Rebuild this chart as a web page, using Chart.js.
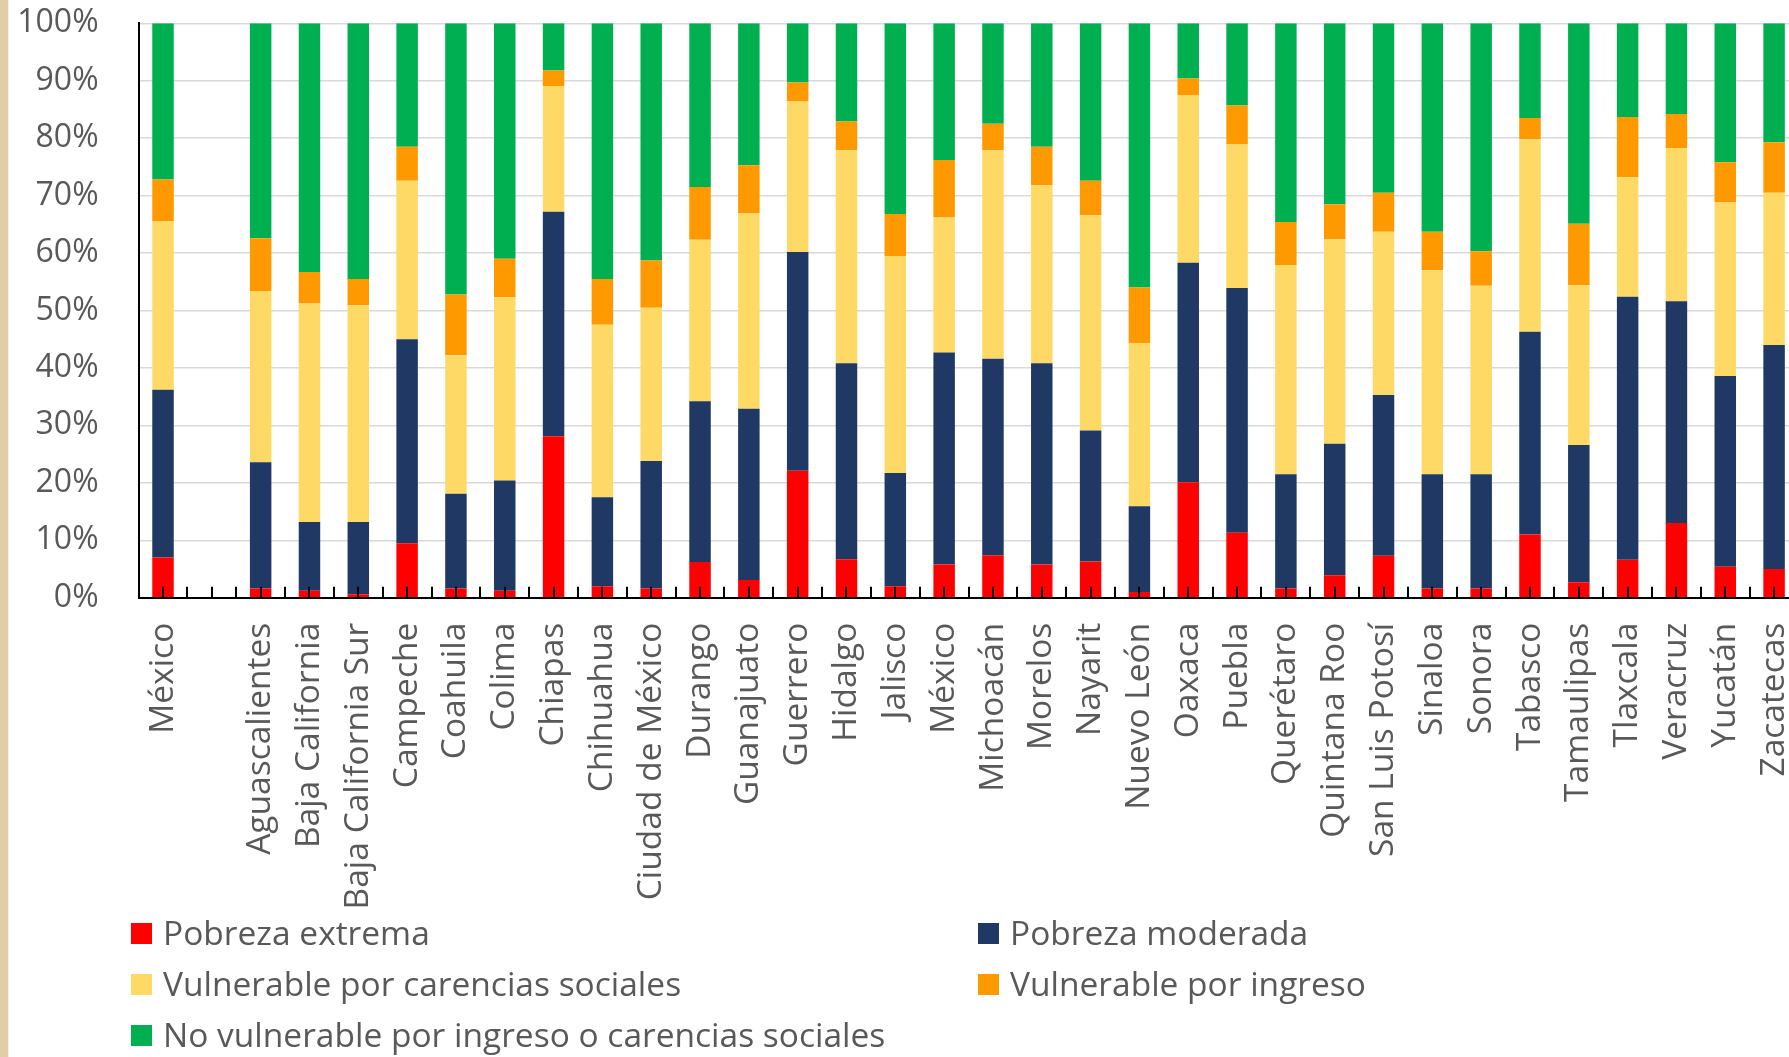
<!DOCTYPE html>
<html lang="es">
<head>
<meta charset="utf-8">
<title>Pobreza por entidad federativa</title>
<script src="https://cdn.jsdelivr.net/npm/chart.js"></script>
<style>
    html, body { margin: 0; padding: 0; background: #fff; overflow: hidden; }
    body { width: 1789px; height: 1057px; position: relative; font-family: "Open Sans", sans-serif; }
    #franja { position: absolute; left: 0; top: 0; width: 8px; height: 1057px; background: #E2CDA6; border-right: 1px solid #F1F1F1; z-index: 2; }
    /* el lienzo es algo más ancho que la ventana: la última barra queda al borde */
    #grafica { position: absolute; left: 0; top: 0; width: 1799px; height: 1057px; }
    #leyenda { position: absolute; left: 0; top: 0; }
    .item { position: absolute; display: flex; align-items: center; font-size: 33.5px; color: #595959; white-space: nowrap; line-height: 1; }
    .item span.caja { display: inline-block; width: 21px; height: 21px; margin-right: 11px; }
</style>
</head>
<body>
<div id="franja"></div>
<div id="grafica"><canvas id="myChart"></canvas></div>
<div id="leyenda"></div>

<script>
// === Datos (porcentaje de la población) ===
const categorias = ["México", "", "Aguascalientes", "Baja California", "Baja California Sur", "Campeche",
    "Coahuila", "Colima", "Chiapas", "Chihuahua", "Ciudad de México", "Durango", "Guanajuato", "Guerrero",
    "Hidalgo", "Jalisco", "México", "Michoacán", "Morelos", "Nayarit", "Nuevo León", "Oaxaca", "Puebla",
    "Querétaro", "Quintana Roo", "San Luis Potosí", "Sinaloa", "Sonora", "Tabasco", "Tamaulipas",
    "Tlaxcala", "Veracruz", "Yucatán", "Zacatecas"];

const pobrezaExtrema = [7.0, null, 1.6, 1.2, 0.6, 9.5, 1.6, 1.2, 28.1, 2.0, 1.6, 6.2, 3.1, 22.1, 6.7, 2.0, 5.8,
    7.4, 5.8, 6.3, 1.0, 20.1, 11.3, 1.6, 3.9, 7.3, 1.6, 1.6, 11.0, 2.7, 6.6, 13.0, 5.4, 5.0];
const pobrezaModerada = [29.2, null, 22.0, 12.0, 12.6, 35.5, 16.5, 19.2, 39.1, 15.5, 22.2, 28.0, 29.8, 38.1, 34.1,
    19.7, 36.9, 34.2, 35.0, 22.8, 14.9, 38.2, 42.6, 19.9, 22.9, 28.0, 19.9, 19.9, 35.3, 23.9, 45.8, 38.6, 33.2, 39.0];
const vulnerableCarencias = [29.4, null, 29.8, 38.0, 37.7, 27.6, 24.1, 31.9, 21.9, 30.0, 26.7, 28.1, 34.0, 26.2,
    37.1, 37.8, 23.5, 36.3, 31.0, 37.5, 28.4, 29.2, 25.0, 36.4, 35.6, 28.4, 35.5, 32.8, 33.5, 27.8, 20.8, 26.7, 30.2, 26.5];
const vulnerableIngreso = [7.2, null, 9.2, 5.5, 4.6, 5.9, 10.6, 6.7, 2.7, 8.0, 8.2, 9.2, 8.4, 3.3, 5.0, 7.3, 10.0,
    4.6, 6.7, 6.0, 9.7, 2.9, 6.8, 7.5, 6.1, 6.8, 6.7, 6.0, 3.7, 10.7, 10.5, 5.9, 7.0, 8.8];
const noVulnerable = [27.2, null, 37.4, 43.3, 44.5, 21.5, 47.2, 41.0, 8.2, 44.5, 41.3, 28.5, 24.7, 10.3, 17.1,
    33.2, 23.8, 17.5, 21.5, 27.4, 46.0, 9.6, 14.3, 34.6, 31.5, 29.5, 36.3, 39.7, 16.5, 34.9, 16.3, 15.8, 24.2, 20.7];

const nombresSeries = ["Pobreza extrema", "Pobreza moderada", "Vulnerable por carencias sociales",
    "Vulnerable por ingreso", "No vulnerable por ingreso o carencias sociales"];
const coloresSeries = ["#FF0000", "#203864", "#FFD966", "#FF9900", "#00B050"];
const yTickLabels = ["0%", "10%", "20%", "30%", "40%", "50%", "60%", "70%", "80%", "90%", "100%"];

const valoresSeries = [pobrezaExtrema, pobrezaModerada, vulnerableCarencias, vulnerableIngreso, noVulnerable];

// === Marcas del eje X hacia dentro (cada media categoría) ===
const marcasEje = {
    id: "marcasEje",
    afterDatasetsDraw(chart) {
        const x = chart.scales.x;
        const ctx = chart.ctx;
        const paso = (x.right - x.left) / (categorias.length * 2);
        ctx.save();
        ctx.strokeStyle = "#000";
        ctx.lineWidth = 2;
        ctx.beginPath();
        for (let k = 1; k < categorias.length * 2; k++) {
            const px = Math.round(x.left + k * paso);
            ctx.moveTo(px, x.top);
            ctx.lineTo(px, x.top - 11);
        }
        ctx.stroke();
        ctx.restore();
    },
};

// quita el relleno que Chart.js reserva para las etiquetas de los extremos
function sinRelleno(scale) {
    scale.paddingLeft = 0;
    scale.paddingRight = 0;
    scale.paddingTop = 0;
    scale.paddingBottom = 0;
}

Chart.defaults.font.family = '"Open Sans", sans-serif';
Chart.defaults.color = "#595959";

new Chart("myChart", {
    type: "bar",
    data: {
        labels: categorias,
        datasets: valoresSeries.map((valores, i) => ({
            label: nombresSeries[i],
            data: valores,
            backgroundColor: coloresSeries[i],
            borderWidth: 0,
            categoryPercentage: 1,
            barPercentage: 0.44,
        })),
    },
    options: {
        responsive: true,
        maintainAspectRatio: false,
        animation: false,
        layout: { padding: { top: 23.3, left: 0, right: 0.5, bottom: 0 } },
        plugins: {
            legend: { display: false },
            tooltip: { enabled: false },
        },
        scales: {
            x: {
                stacked: true,
                grid: { display: false, drawTicks: false },
                border: { display: true, color: "#000", width: 2 },
                ticks: {
                    autoSkip: false,
                    maxRotation: 90,
                    minRotation: 90,
                    padding: 25,
                    font: { size: 33.5 },
                    color: "#595959",
                },
                afterFit(scale) {
                    sinRelleno(scale);
                    scale.height = 1057 - 597.7;
                },
            },
            y: {
                stacked: true,
                min: 0,
                max: 100,
                grid: { color: "#D9D9D9", lineWidth: 1.5, drawTicks: false },
                border: { display: true, color: "#000", width: 2 },
                ticks: {
                    stepSize: 10,
                    padding: 40,
                    font: { size: 32 },
                    color: "#595959",
                    callback: (v, i) => yTickLabels[i],
                },
                afterFit(scale) {
                    sinRelleno(scale);
                    scale.width = 138.6;
                },
            },
        },
    },
    plugins: [marcasEje],
});

// === Leyenda en dos columnas ===
const posicionesLeyenda = [[131, 933], [978, 933], [131, 984], [978, 984], [131, 1035]];
const leyenda = document.getElementById("leyenda");
nombresSeries.forEach((nombre, i) => {
    const [px, py] = posicionesLeyenda[i];
    leyenda.innerHTML += `<div class="item" style="left:${px}px;top:${py - 20}px;height:40px">
        <span class="caja" style="background:${coloresSeries[i]}"></span>${nombre}</div>`;
});
</script>
</body>
</html>
